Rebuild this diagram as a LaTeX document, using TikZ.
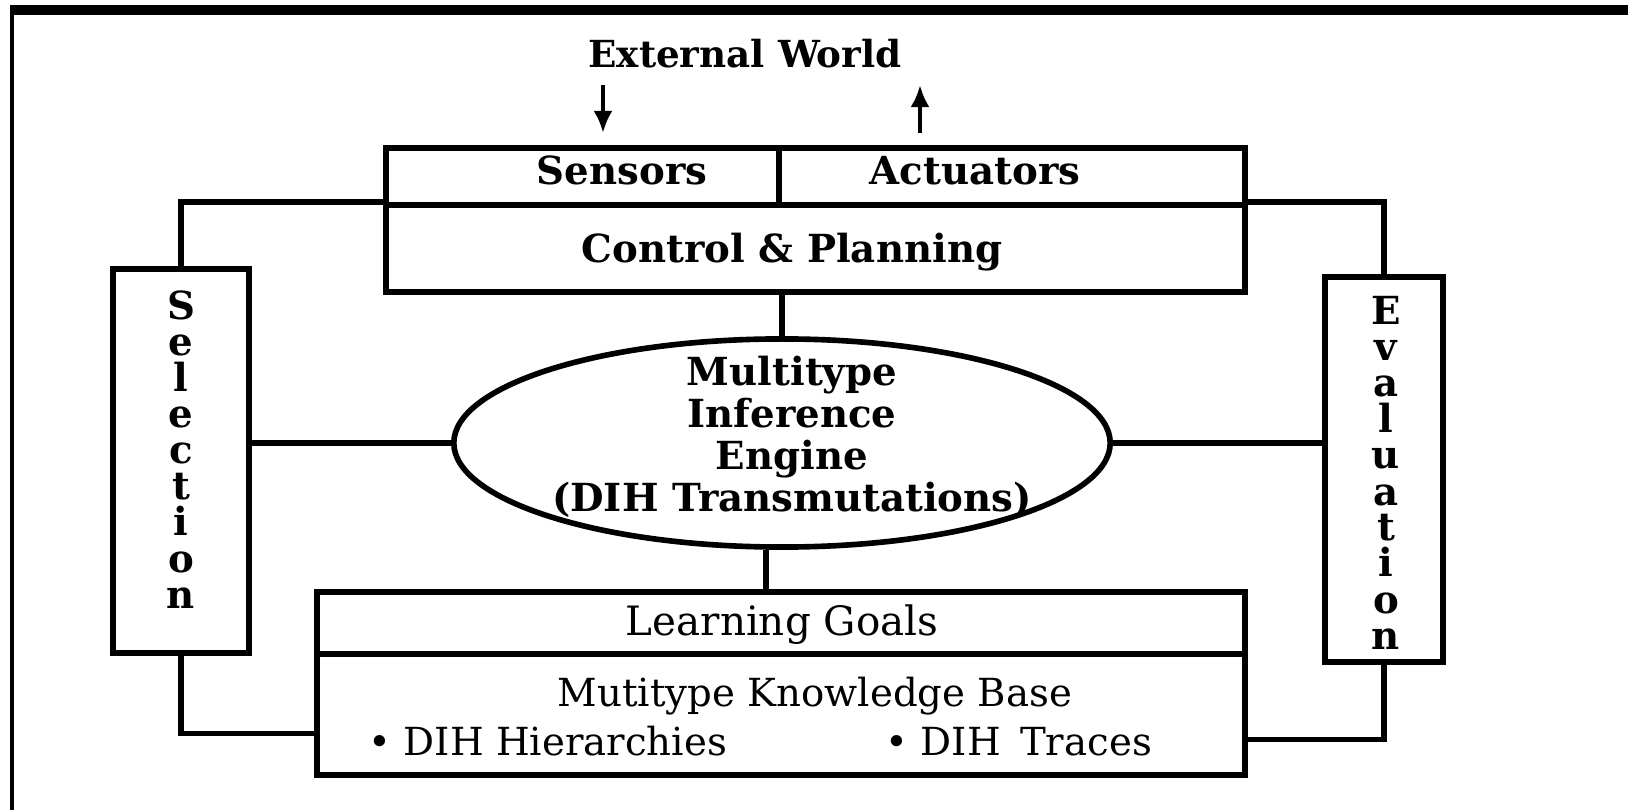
\documentclass[tikz,border=0pt]{standalone}
\usepackage{fontspec}
\setmainfont{DejaVu Serif}
\usetikzlibrary{arrows.meta,shapes.geometric,positioning}

\tikzset{
  cell/.style={draw, line width=1.6pt, inner sep=0pt},
  lbl/.style={font=\fontsize{11}{13}\selectfont\bfseries, inner sep=0pt, anchor=base},
  kbl/.style={font=\fontsize{11}{13}\selectfont, inner sep=0pt, anchor=base},
  link/.style={line width=1.6pt},
  io/.style={line width=1.4pt, -{Latex[length=0.22cm,width=0.19cm]}},
}

\begin{document}
\begin{tikzpicture}[x=0.01cm,y=-0.01cm]
\useasboundingbox (0,0) rectangle (1628,810);

% outer frame, top and left only
\draw[line width=2.6pt] (1628,10) -- (10,10);
\draw[line width=1.2pt] (12,10) -- (12,810);

% control unit on top
\node[cell, minimum width=3.93cm, minimum height=0.57cm] (sens) at (582.5,176.5) {};
\node[cell, minimum width=4.66cm, minimum height=0.57cm] (act) at (1012,176.5) {};
\node[cell, minimum width=8.59cm, minimum height=0.87cm] (ctrl) at (815.5,248.5) {};
\node[lbl] (senstxt) at (622,185) {Sensors};
\node[lbl] (acttxt) at (975,185) {Actuators};
\node[lbl] (ctrltxt) at (792,263) {Control \& Planning};

% world in / out
\node[lbl, font=\fontsize{10.6}{13}\selectfont\bfseries] (world) at (745,68) {External World};
\coordinate (inTop) at (603,85);
\coordinate (inEnd) at (603,133);
\coordinate (outTop) at (920,85);
\coordinate (outEnd) at (920,133);
\draw[io] (inTop) -- (inEnd);
\draw[io] (outEnd) -- (outTop);

% inference engine
\node[draw, ellipse, line width=1.6pt, inner sep=0pt,
      minimum width=6.56cm, minimum height=2.08cm] (eng) at (782,443) {};
\node[font=\fontsize{11}{12}\selectfont\bfseries, align=center, inner sep=0pt] (engtxt) at (792,437)
  {Multitype\\Inference\\Engine\\(DIH Transmutations)};

% side boxes
\node[cell, minimum width=1.36cm, minimum height=3.84cm] (sel) at (181,461) {};
\node[cell, minimum width=1.18cm, minimum height=3.85cm] (eval) at (1384,469.5) {};
\foreach \ch [count=\i] in {S,e,l,e,c,t,i,o,n}
  \node[lbl] (sel\i) at (181,284+36*\i) {\ch};
\foreach \ch [count=\i] in {E,v,a,l,u,a,t,i,o,n}
  \node[lbl] (eval\i) at (1386,289+36*\i) {\ch};

% knowledge base at the bottom
\node[cell, minimum width=9.28cm, minimum height=0.62cm] (goals) at (781,623) {};
\node[cell, minimum width=9.28cm, minimum height=1.21cm] (kb) at (781,714.5) {};
\node[kbl, font=\fontsize{11.5}{13}\selectfont] (goalstxt) at (782,635) {Learning Goals};
\node[kbl] (kbtxt) at (815,706) {Mutitype Knowledge Base};
\node[kbl, anchor=base west] (hier) at (368,755) {• DIH Hierarchies};
\node[kbl, anchor=base west] (trace) at (885,755) {• DIH\enspace Traces};

% connections
\draw[link] (sel.north) |- (ctrl.north west);
\draw[link] (eval.north) |- (ctrl.north east);
\draw[link] (eng.north) -- (eng.north |- ctrl.south);
\draw[link] ([xshift=-0.16cm]eng.south) -- ([xshift=-0.16cm]eng.south |- goals.north);
\draw[link] (eng.west) -- (eng.west -| sel.east);
\draw[link] (eng.east) -- (eng.east -| eval.west);
\draw[link] (sel.south) |- ([yshift=-0.19cm]kb.west);
\draw[link] (eval.south) |- ([yshift=-0.25cm]kb.east);
\end{tikzpicture}
\end{document}
